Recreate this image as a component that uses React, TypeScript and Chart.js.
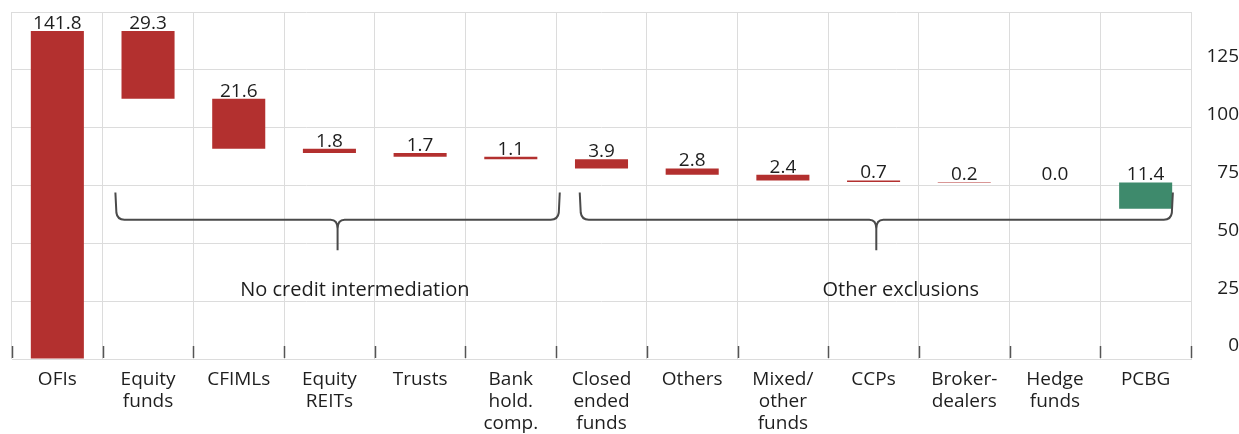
import React, { useEffect, useRef } from "react";
import { Chart, registerables } from "chart.js";

Chart.register(...registerables);

// ---- Data ----
const categories: string[][] = [
  ["OFIs"],
  ["Equity", "funds"],
  ["CFIMLs"],
  ["Equity", "REITs"],
  ["Trusts"],
  ["Bank", "hold.", "comp."],
  ["Closed", "ended", "funds"],
  ["Others"],
  ["Mixed/", "other", "funds"],
  ["CCPs"],
  ["Broker-", "dealers"],
  ["Hedge", "funds"],
  ["PCBG"],
];
const barStart = [0, 112.5, 90.9, 89.1, 87.4, 86.3, 82.4, 79.6, 77.2, 76.5, 76.3, 76.3, 64.9];
const barEnd = [141.8, 141.8, 112.5, 90.9, 89.1, 87.4, 86.3, 82.4, 79.6, 77.2, 76.5, 76.3, 76.3];
const valueLabels = ["141.8", "29.3", "21.6", "1.8", "1.7", "1.1", "3.9", "2.8", "2.4", "0.7", "0.2", "0.0", "11.4"];
const barType = ["red", "red", "red", "red", "red", "red", "red", "red", "red", "red", "red", "red", "green"];
const yTickValues = [0, 25, 50, 75, 100, 125];
const groupNames = ["No credit intermediation", "Other exclusions"];
const groupFirst = [1, 6];
const groupLast = [5, 12];

// ---- Styles ----
const FONT = "'Open Sans', 'Noto Sans', sans-serif";
const FONT_SIZE = 19;
const TEXT = "#1e1e1e";
const RED = "#B3302F";
const GREEN = "#3E8A6C";
const GRID = "#dcdcdc";

const bracePads = [
  { left: 0.36, right: 0.54, labelShift: 0.19 },
  { left: 0.24, right: 0.3, labelShift: 0.27 },
];

const overlayPlugin = {
  id: "overlay",
  afterDatasetsDraw(chart: any) {
    const ctx = chart.ctx;
    const x = chart.scales.x;
    const y = chart.scales.y;
    const area = chart.chartArea;
    ctx.save();

    // inner tick marks at category boundaries
    ctx.strokeStyle = "#555";
    ctx.lineWidth = 1.5;
    for (let i = 0; i <= categories.length; i++) {
      const px = Math.round(x.getPixelForValue(i - 0.5)) + 0.5;
      ctx.beginPath();
      ctx.moveTo(px, area.bottom - 13);
      ctx.lineTo(px, area.bottom - 1);
      ctx.stroke();
    }

    // value labels
    const meta = chart.getDatasetMeta(0);
    ctx.fillStyle = TEXT;
    ctx.font = `${FONT_SIZE}px ${FONT}`;
    ctx.textAlign = "center";
    ctx.textBaseline = "alphabetic";
    meta.data.forEach((el: any, i: number) => {
      const top = Math.min(el.y, el.base);
      ctx.fillText(valueLabels[i], el.x, top - 2);
    });

    // braces
    ctx.strokeStyle = "#4a4a4a";
    ctx.lineWidth = 2;
    const yTop = y.getPixelForValue(72);
    const yMid = y.getPixelForValue(60.2);
    const yTip = y.getPixelForValue(47);
    const r = 7;
    ctx.font = `20px ${FONT}`;
    groupNames.forEach((name, g) => {
      const x1 = x.getPixelForValue(groupFirst[g] - bracePads[g].left);
      const x2 = x.getPixelForValue(groupLast[g] + bracePads[g].right);
      const xm = (x1 + x2) / 2;
      ctx.beginPath();
      ctx.moveTo(x1, yTop);
      ctx.lineTo(x1 + 1, yMid - r);
      ctx.quadraticCurveTo(x1 + 2, yMid, x1 + r + 2, yMid);
      ctx.lineTo(xm - r, yMid);
      ctx.quadraticCurveTo(xm, yMid, xm, yMid + r + 2);
      ctx.lineTo(xm, yTip);
      ctx.moveTo(xm, yMid + r + 2);
      ctx.quadraticCurveTo(xm, yMid, xm + r, yMid);
      ctx.lineTo(x2 - r - 2, yMid);
      ctx.quadraticCurveTo(x2 - 2, yMid, x2 - 1, yMid - r);
      ctx.lineTo(x2, yTop);
      ctx.stroke();

      const lx = x.getPixelForValue((groupFirst[g] - bracePads[g].left + groupLast[g] + bracePads[g].right) / 2 + bracePads[g].labelShift);
      ctx.textBaseline = "middle";
      ctx.fillText(name, lx, y.getPixelForValue(29.8));
    });
    ctx.restore();
  },
};

export default function App() {
  const ref = useRef<HTMLCanvasElement | null>(null);
  useEffect(() => {
    if (!ref.current) return;
    const chart = new Chart(ref.current, {
      type: "bar",
      data: {
        labels: categories,
        datasets: [
          {
            data: barStart.map((s, i) => [s, barEnd[i]]),
            backgroundColor: barType.map((t) => (t === "green" ? GREEN : RED)),
            borderWidth: 0,
            barPercentage: 0.585,
            categoryPercentage: 1,
          },
        ],
      },
      options: {
        animation: false,
        responsive: false,
        maintainAspectRatio: false,
        layout: { padding: { left: 12, top: 12, right: 0, bottom: 0 } },
        plugins: { legend: { display: false }, tooltip: { enabled: false } },
        scales: {
          x: {
            offset: true,
            grid: { offset: true, color: GRID, lineWidth: 1, drawTicks: false },
            border: { color: GRID },
            ticks: {
              color: TEXT,
              font: { family: FONT, size: FONT_SIZE, lineHeight: 1.18 },
              padding: 9,
              maxRotation: 0,
              autoSkip: false,
            },
            afterFit: (s: any) => {
              s.height = 75;
              s.paddingLeft = 0;
              s.paddingRight = 0;
            },
          },
          y: {
            position: "right",
            min: 0,
            max: 150,
            afterBuildTicks: (s: any) => {
              s.ticks = [...yTickValues, 150].map((v) => ({ value: v }));
            },
            grid: { color: GRID, lineWidth: 1, drawTicks: false },
            border: { display: false },
            ticks: {
              color: TEXT,
              font: { family: FONT, size: FONT_SIZE },
              padding: 14,
              crossAlign: "far",
              labelOffset: -13,
              callback: (v: any) => (yTickValues.includes(Number(v)) ? String(v) : ""),
            },
            afterFit: (s: any) => {
              s.width = 48;
              s.paddingTop = 0;
              s.paddingBottom = 0;
            },
          },
        },
      },
      plugins: [overlayPlugin],
    } as any);
    return () => chart.destroy();
  }, []);

  return (
    <div style={{ position: "absolute", left: 0, top: 0, width: 1239, height: 434, background: "#fff" }}>
      <canvas ref={ref} width={1239} height={434} style={{ display: "block", width: 1239, height: 434 }} />
    </div>
  );
}
